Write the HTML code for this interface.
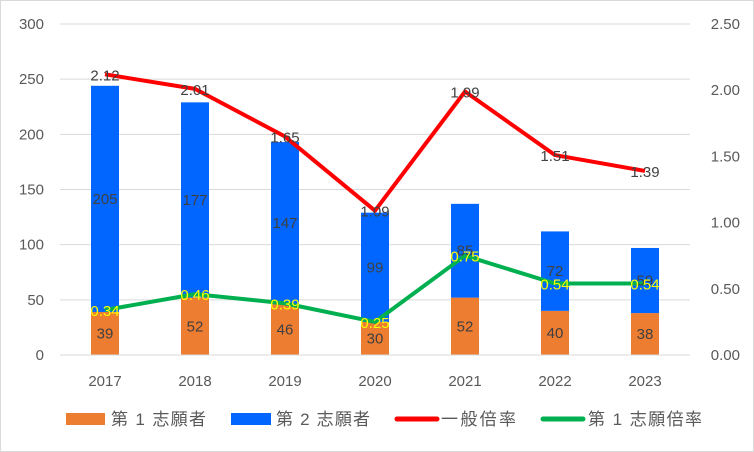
<!DOCTYPE html>
<html><head><meta charset="utf-8"><style>
body{margin:0;background:#fff}
svg{display:block;font-family:"Liberation Sans","Noto Sans CJK JP",sans-serif}
</style></head><body>
<svg id="c" width="754" height="452">
<rect x="0.5" y="0.5" width="753" height="451" fill="#fff" stroke="#d9d9d9"/>
<g id="grid"></g><g id="bars"></g><g id="lines"></g><g id="labels"></g><g id="axes"></g>
<g id="legend" font-size="17" fill="#595959">
<rect x="66" y="413" width="39" height="12" fill="#ed7d31"/>
<text x="111" y="425" textLength="95" lengthAdjust="spacing">第 1 志願者</text>
<rect x="231" y="413" width="40" height="12" fill="#0066ff"/>
<text x="276" y="425" textLength="94" lengthAdjust="spacing">第 2 志願者</text>
<line x1="397" y1="419" x2="437" y2="419" stroke="#ff0000" stroke-width="5" stroke-linecap="round"/>
<text x="441" y="425" textLength="75" lengthAdjust="spacing">一般倍率</text>
<line x1="543" y1="419" x2="583" y2="419" stroke="#00b050" stroke-width="5" stroke-linecap="round"/>
<text x="588" y="425" textLength="114" lengthAdjust="spacing">第 1 志願倍率</text>
</g>
</svg>
<script>
const years=["2017","2018","2019","2020","2021","2022","2023"];
const first=[39,52,46,30,52,40,38];
const second=[205,177,147,99,85,72,59];
const general=[2.12,2.01,1.65,1.09,1.99,1.51,1.39];
const firstRatio=[0.34,0.46,0.39,0.25,0.75,0.54,0.54];
const leftTicks=[0,50,100,150,200,250,300];
const rightTicks=["0.00","0.50","1.00","1.50","2.00","2.50"];
const NS="http://www.w3.org/2000/svg";
const X0=60,X1=690,Y0=355,Y1=24;
const xs=i=>X0+(i+0.5)*(X1-X0)/years.length;
const yl=v=>Y0-v/300*(Y0-Y1);
const yr=v=>Y0-v/2.5*(Y0-Y1);
function mk(p,tag,a,txt){const e=document.createElementNS(NS,tag);for(const k in a)e.setAttribute(k,a[k]);if(txt!==undefined)e.textContent=txt;document.getElementById(p).appendChild(e);return e;}
leftTicks.forEach((t,i)=>{
 let g=mk('grid','line',{x1:X0,x2:X1,y1:yl(t),y2:yl(t),stroke:'#d9d9d9'});
 
 
 let a=mk('axes','text',{x:44,y:yl(t)+5,'text-anchor':'end','font-size':15,fill:'#595959'},t);
 
 
});
rightTicks.forEach(t=>{
 let a=mk('axes','text',{x:740,y:yr(+t)+5,'text-anchor':'end','font-size':15,fill:'#595959'},t);
 
 
});
const bw=28;
years.forEach((y,i)=>{
 const x=xs(i);
 let t=mk('axes','text',{x:x,y:386,'text-anchor':'middle','font-size':15,fill:'#595959'},y);
 
 
 let b1=mk('bars','rect',{x:x-bw/2,y:yl(first[i]),width:bw,height:Y0-yl(first[i]),fill:'#ed7d31'});
 
 
 let b2=mk('bars','rect',{x:x-bw/2,y:yl(first[i]+second[i]),width:bw,height:yl(first[i])-yl(first[i]+second[i]),fill:'#0066ff'});
 
 
 let l1=mk('labels','text',{x:x,y:yl(first[i]/2)+5,'text-anchor':'middle','font-size':15,fill:'#404040'},first[i]);
 
 
 let l2=mk('labels','text',{x:x,y:yl(first[i]+second[i]/2)+5,'text-anchor':'middle','font-size':15,fill:'#404040'},second[i]);
 
 
});
mk('axes','line',{x1:X0,x2:X1,y1:Y0,y2:Y0,stroke:'#d9d9d9'});
function line(arr,col,nm,lc){
 const p=mk('lines','polyline',{points:arr.map((v,i)=>xs(i)+','+yr(v)).join(' '),fill:'none',stroke:col,'stroke-width':4,'stroke-linejoin':'round'});
 
 
 arr.forEach((v,i)=>{
  let t=mk('labels','text',{x:xs(i),y:yr(v)+6,'text-anchor':'middle','font-size':15,fill:lc},v.toFixed(2));
  
  
 });
}
line(general,'#ff0000','line-general','#404040');
line(firstRatio,'#00b050','line-first-ratio','#ffff00');
</script>
</body></html>
